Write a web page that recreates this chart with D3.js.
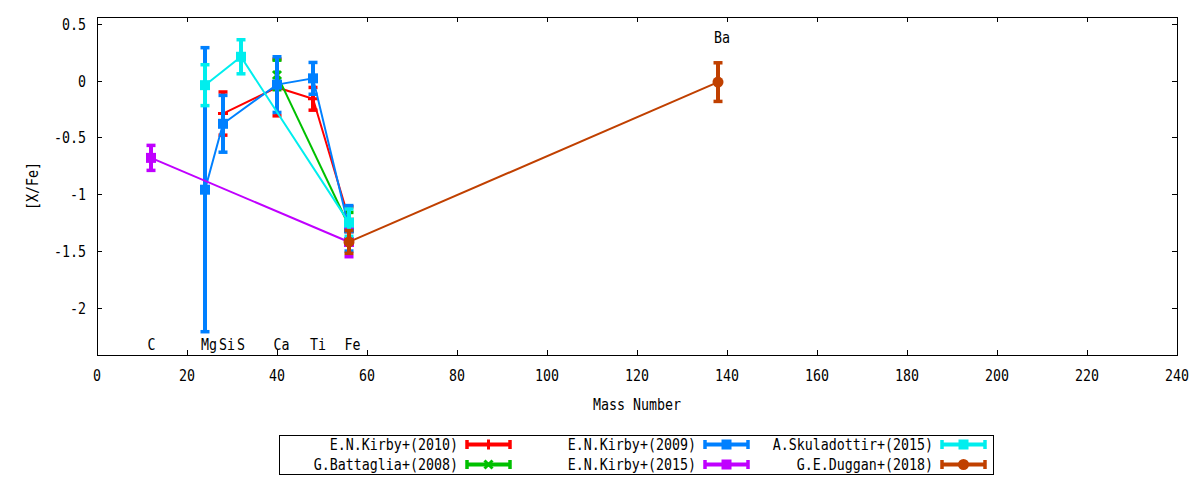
<!DOCTYPE html>
<html>
<head>
<meta charset="utf-8">
<script src="https://cdn.jsdelivr.net/npm/d3@7"></script>
<style>
  body { margin: 0; background: #fff; }
  text { font-family: "DejaVu Sans Mono", monospace; font-size: 15.5px; fill: #000; }
</style>
</head>
<body>
<div id="chart"></div>
<script>
// each point: [mass number, [X/Fe], error]
const kirby2010 = [[28, -0.29, 0.19], [40, -0.06, 0.25], [48, -0.16, 0.10], [56, -1.22, 0.11]];
const battaglia2008 = [[40, 0.05, 0.13], [56, -1.28, 0.12]];
const kirby2009 = [[24, -0.96, 1.25], [28, -0.38, 0.25], [40, -0.035, 0.245], [48, 0.02, 0.14], [56, -1.30, 0.20]];
const kirby2015 = [[12, -0.68, 0.11], [56, -1.42, 0.13]];
const skuladottir2015 = [[24, -0.04, 0.18], [32, 0.21, 0.15], [56, -1.25, 0.12]];
const duggan2018 = [[56, -1.42, 0.10], [138, -0.013, 0.17]];

const seriesNames = ["E.N.Kirby+(2010)", "G.Battaglia+(2008)", "E.N.Kirby+(2009)",
  "E.N.Kirby+(2015)", "A.Skuladottir+(2015)", "G.E.Duggan+(2018)"];
const seriesData = [kirby2010, battaglia2008, kirby2009, kirby2015, skuladottir2015, duggan2018];
const seriesColors = ["#ff0000", "#00c000", "#0080ff", "#c000ff", "#00eeee", "#c04000"];
const seriesMarkers = ["plus", "cross", "square", "square", "square", "circle"];

// element labels placed in data coordinates
const elementNames = ["C", "Mg", "Si", "S", "Ca", "Ti", "Fe", "Ba"];
const elementLabelX = [12.1, 24.9, 28.9, 32, 41, 49.1, 56.8, 138.9];
const elementLabelY = [-2.37, -2.37, -2.37, -2.37, -2.37, -2.37, -2.37, 0.33];

const xTicks = d3.range(0, 241, 20);
const yTicks = [-2, -1.5, -1, -0.5, 0, 0.5];

const width = 1200, height = 480;
const plot = { left: 97, right: 1177, top: 17, bottom: 355 };
const sx = 0.86; // narrow the mono font to match the original glyphs

const svg = d3.select("#chart").append("svg")
  .attr("width", width)
  .attr("height", height);

const x = d3.scaleLinear().domain([0, 240]).range([plot.left, plot.right]);
const y = d3.scaleLinear().domain([-2.415, 0.56]).range([plot.bottom, plot.top]);

function label(g, px, py, str, anchor, rot) {
  return g.append("text")
    .attr("transform", `translate(${px},${py})${rot ? " rotate(-90)" : ""} scale(${sx},1)`)
    .attr("text-anchor", anchor)
    .text(str);
}

// ticks on all four sides, pointing inward
const tickLen = 5;
const axes = svg.append("g").attr("stroke", "#000").attr("stroke-width", 1);
xTicks.forEach(t => {
  const px = Math.round(x(t)) + 0.5;
  axes.append("line").attr("x1", px).attr("x2", px).attr("y1", plot.bottom).attr("y2", plot.bottom - tickLen);
  axes.append("line").attr("x1", px).attr("x2", px).attr("y1", plot.top).attr("y2", plot.top + tickLen);
  label(svg, x(t), 381, d3.format("d")(t), "middle");
});
yTicks.forEach(t => {
  const py = Math.round(y(t)) + 0.5;
  axes.append("line").attr("x1", plot.left).attr("x2", plot.left + tickLen).attr("y1", py).attr("y2", py);
  axes.append("line").attr("x1", plot.right).attr("x2", plot.right - tickLen).attr("y1", py).attr("y2", py);
  label(svg, 86, y(t) + 6, String(t), "end");
});

svg.append("rect")
  .attr("x", plot.left + 0.5).attr("y", plot.top + 0.5)
  .attr("width", plot.right - plot.left).attr("height", plot.bottom - plot.top)
  .attr("fill", "none").attr("stroke", "#000");

label(svg, 38, 186, "[X/Fe]", "middle", true);
label(svg, (plot.left + plot.right) / 2, 410, "Mass Number", "middle");

// element annotations
elementNames.forEach((name, i) => {
  label(svg, x(elementLabelX[i]), y(elementLabelY[i]), name, "middle");
});

function drawMarker(g, type, cx, cy, color) {
  if (type === "square") {
    g.append("rect").attr("x", cx - 5).attr("y", cy - 5).attr("width", 10).attr("height", 10).attr("fill", color);
  } else if (type === "circle") {
    g.append("circle").attr("cx", cx).attr("cy", cy).attr("r", 5.5).attr("fill", color);
  } else if (type === "plus") {
    g.append("path").attr("d", `M${cx - 5},${cy}H${cx + 5}M${cx},${cy - 5}V${cy + 5}`)
      .attr("stroke", color).attr("stroke-width", 3).attr("fill", "none");
  } else if (type === "cross") {
    g.append("path").attr("d", `M${cx - 4},${cy - 4}L${cx + 4},${cy + 4}M${cx - 4},${cy + 4}L${cx + 4},${cy - 4}`)
      .attr("stroke", color).attr("stroke-width", 3).attr("fill", "none");
  }
}

const line = d3.line().x(d => x(d[0])).y(d => y(d[1]));

seriesData.forEach((data, i) => {
  const color = seriesColors[i];
  const g = svg.append("g");
  g.append("path").datum(data)
    .attr("d", line)
    .attr("fill", "none")
    .attr("stroke", color)
    .attr("stroke-width", 2);
  data.forEach(d => {
    const cx = x(d[0]);
    const top = y(d[1] + d[2]), bot = y(d[1] - d[2]);
    g.append("line").attr("x1", cx).attr("x2", cx).attr("y1", top).attr("y2", bot)
      .attr("stroke", color).attr("stroke-width", 4);
    [top, bot].forEach(cy => {
      g.append("line").attr("x1", cx - 4.5).attr("x2", cx + 4.5).attr("y1", cy).attr("y2", cy)
        .attr("stroke", color).attr("stroke-width", 3.5);
    });
    drawMarker(g, seriesMarkers[i], cx, y(d[1]), color);
  });
});

// Legend: 3 columns x 2 rows, filled column-wise
const legendBox = { x: 279.5, y: 435.5, w: 714, h: 39 };
svg.append("rect")
  .attr("x", legendBox.x).attr("y", legendBox.y)
  .attr("width", legendBox.w).attr("height", legendBox.h)
  .attr("fill", "#fff").attr("stroke", "#000");

const colTextEnd = [458, 696, 933];
const rowY = [444.5, 464.5];
seriesNames.forEach((name, i) => {
  const col = Math.floor(i / 2), row = i % 2;
  const ty = rowY[row];
  const color = seriesColors[i];
  label(svg, colTextEnd[col], ty + 5.5, name, "end");
  const x0 = colTextEnd[col] + 9, x1 = x0 + 43;
  const g = svg.append("g");
  g.append("line").attr("x1", x0).attr("x2", x1).attr("y1", ty).attr("y2", ty)
    .attr("stroke", color).attr("stroke-width", 4);
  [x0, x1].forEach(cx => {
    g.append("line").attr("x1", cx).attr("x2", cx).attr("y1", ty - 4.5).attr("y2", ty + 4.5)
      .attr("stroke", color).attr("stroke-width", 3.5);
  });
  drawMarker(g, seriesMarkers[i], (x0 + x1) / 2, ty, color);
});
</script>
</body>
</html>
